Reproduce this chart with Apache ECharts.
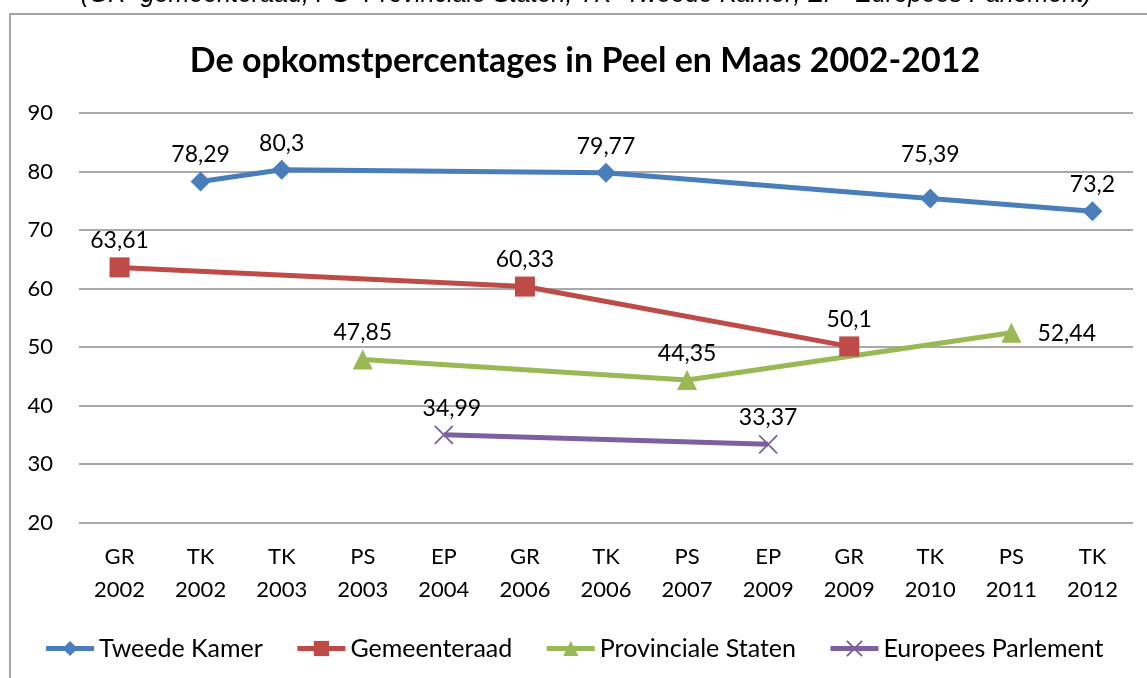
<!DOCTYPE html>
<html>
<head>
<meta charset="utf-8">
<script src="https://cdn.jsdelivr.net/npm/echarts@6/dist/echarts.min.js"></script>
<style>
html,body{margin:0;padding:0;background:#fff;}
#main{width:1147px;height:678px;}
</style>
</head>
<body>
<div id="main"></div>
<script>
var categories = ['GR\n2002','TK\n2002','TK\n2003','PS\n2003','EP\n2004','GR\n2006','TK\n2006','PS\n2007','EP\n2009','GR\n2009','TK\n2010','PS\n2011','TK\n2012'];
var tweedeKamer = [null, 78.29, 80.3, null, null, null, 79.77, null, null, null, 75.39, null, 73.2];
var gemeenteraad = [63.61, null, null, null, null, 60.33, null, null, null, 50.1, null, null, null];
var provincialeStaten = [null, null, null, 47.85, null, null, null, 44.35, null, null, null, 52.44, null];
var europeesParlement = [null, null, null, null, 34.99, null, null, null, 33.37, null, null, null, null];
var yTicks = [20, 30, 40, 50, 60, 70, 80, 90];
var titleText = 'De opkomstpercentages in Peel en Maas 2002-2012';
var noteText = '(GR=gemeenteraad; PS=Provinciale Staten; TK=Tweede Kamer; EP=Europees Parlement)';

var FONT = 'Lato, "Open Sans", sans-serif';
function fmt(p){ return String(p.value).replace('.', ','); }

function mkData(arr, tweaks){
  return arr.map(function(v, i){
    if (tweaks && tweaks[i]) return Object.assign({value: v}, tweaks[i]);
    return v;
  });
}

function mkSeries(name, arr, color, symbol, size, tweaks, extra){
  var s = {
    name: name,
    type: 'line',
    data: mkData(arr, tweaks),
    connectNulls: true,
    symbol: symbol,
    symbolSize: size,
    lineStyle: {color: color, width: 5},
    itemStyle: {color: color},
    label: {show: true, position: 'top', distance: 5, formatter: fmt, color: '#000', fontFamily: FONT, fontSize: 23},
    emphasis: {disabled: true},
    animation: false,
    z: 3
  };
  if (extra) Object.assign(s, extra);
  return s;
}

var xPath = 'path://M0,0L10,10M10,0L0,10';

var chart = echarts.init(document.getElementById('main'));
chart.setOption({
  backgroundColor: '#fff',
  animation: false,
  graphic: [
    {type: 'rect', shape: {x: 10, y: 14, width: 1200, height: 700}, style: {fill: 'none', stroke: '#868686', lineWidth: 1.5}, z: -1},
    {type: 'text', x: 586, y: 8, style: {text: noteText, fontFamily: '"Liberation Sans", Arial, sans-serif', fontStyle: 'italic', fontSize: 25, fill: '#000', align: 'center', verticalAlign: 'bottom'}},
    {type: 'text', x: 585, y: 61, style: {text: titleText, fontFamily: FONT, fontWeight: 'bold', fontSize: 34, fill: '#000', align: 'center', verticalAlign: 'middle'}}
  ],
  legend: {
    bottom: 12,
    left: 'center',
    itemWidth: 48,
    itemHeight: 19,
    itemGap: 32,
    lineStyle: {width: 5},
    textStyle: {fontFamily: FONT, fontSize: 25, color: '#000'},
    data: ['Tweede Kamer', 'Gemeenteraad', 'Provinciale Staten', 'Europees Parlement']
  },
  grid: {left: 79, right: 14, top: 113, bottom: 155.5, containLabel: false},
  xAxis: {
    type: 'category',
    data: categories,
    boundaryGap: true,
    axisLine: {show: false},
    axisTick: {show: false},
    axisLabel: {fontFamily: FONT, fontSize: 22, color: '#000', lineHeight: 33, margin: 18, interval: 0}
  },
  yAxis: {
    type: 'value',
    min: yTicks[0],
    max: yTicks[yTicks.length - 1],
    interval: 10,
    axisLine: {show: false},
    axisTick: {show: false},
    axisLabel: {fontFamily: FONT, fontSize: 22, color: '#000', margin: 26},
    splitLine: {lineStyle: {color: '#8c8c8c', width: 1.5}}
  },
  series: [
    mkSeries('Tweede Kamer', tweedeKamer, '#4A7EBB', 'diamond', 20, {10: {label: {distance: 22}}}),
    mkSeries('Gemeenteraad', gemeenteraad, '#BE4B48', 'rect', 20),
    mkSeries('Provinciale Staten', provincialeStaten, '#98B954', 'triangle', 20, {11: {label: {position: 'right', distance: 16, offset: [0, 1]}}}),
    mkSeries('Europees Parlement', europeesParlement, '#7D60A0', xPath, 18, {4: {label: {offset: [8, 0]}}}, {
      itemStyle: {color: '#7D60A0', borderColor: '#7D60A0', borderWidth: 1.8}
    })
  ]
});
</script>
</body>
</html>
